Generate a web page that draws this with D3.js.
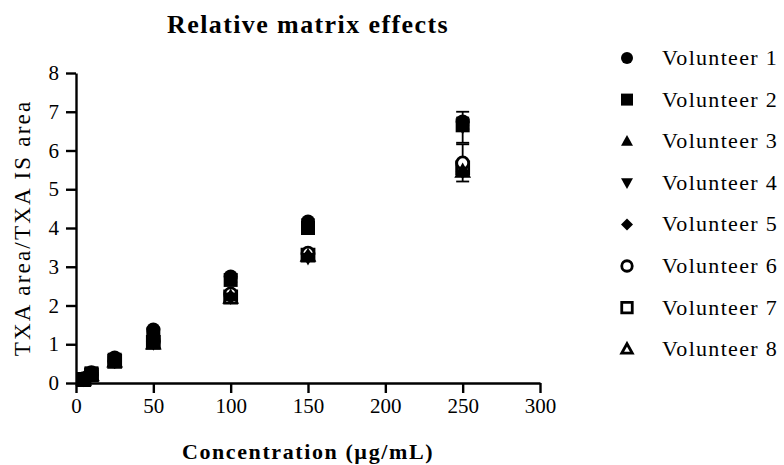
<!DOCTYPE html>
<html>
<head>
<meta charset="utf-8">
<script src="https://cdn.jsdelivr.net/npm/d3@7"></script>
<style>
  body { margin: 0; background: #fff; }
</style>
</head>
<body>
<svg id="chart" width="784" height="465"></svg>
<script>
// Concentrations (µg/mL)
const concentrations = [5, 10, 25, 50, 100, 150, 250];

// Area ratio (TXA / TXA IS) per volunteer
const volunteer1 = [0.12, 0.28, 0.66, 1.38, 2.75, 4.17, 6.75];
const volunteer2 = [0.10, 0.25, 0.60, 1.25, 2.66, 4.00, 6.65];
const volunteer3 = [0.08, 0.20, 0.55, 1.05, 2.25, 3.30, 5.50];
const volunteer4 = [0.08, 0.20, 0.55, 1.02, 2.20, 3.22, 6.60];
const volunteer5 = [0.08, 0.20, 0.55, 1.05, 2.22, 3.27, 5.45];
const volunteer6 = [0.09, 0.21, 0.57, 1.08, 2.30, 3.35, 5.68];
const volunteer7 = [0.09, 0.21, 0.56, 1.05, 2.22, 3.30, 5.55];
const volunteer8 = [0.08, 0.20, 0.55, 1.02, 2.20, 3.28, 5.45];

// Standard deviations of replicate injections
const sd1 = [0.01, 0.02, 0.03, 0.05, 0.06, 0.06, 0.10];
const sd2 = [0.01, 0.02, 0.03, 0.05, 0.06, 0.06, 0.10];
const sd3 = [0.01, 0.02, 0.03, 0.04, 0.05, 0.06, 0.08];
const sd4 = [0.01, 0.02, 0.03, 0.04, 0.05, 0.06, 0.40];
const sd5 = [0.01, 0.02, 0.03, 0.04, 0.05, 0.06, 0.08];
const sd6 = [0.01, 0.02, 0.03, 0.04, 0.05, 0.06, 0.48];
const sd7 = [0.01, 0.02, 0.03, 0.04, 0.05, 0.06, 0.10];
const sd8 = [0.01, 0.02, 0.03, 0.04, 0.05, 0.06, 0.08];

const seriesNames = ["Volunteer 1", "Volunteer 2", "Volunteer 3", "Volunteer 4",
                     "Volunteer 5", "Volunteer 6", "Volunteer 7", "Volunteer 8"];
const xTicks = [0, 50, 100, 150, 200, 250, 300];
const yTicks = [0, 1, 2, 3, 4, 5, 6, 7, 8];

const series = [
  { name: seriesNames[0], values: volunteer1, sd: sd1, shape: "circle",   filled: true },
  { name: seriesNames[1], values: volunteer2, sd: sd2, shape: "square",   filled: true },
  { name: seriesNames[2], values: volunteer3, sd: sd3, shape: "triangle", filled: true },
  { name: seriesNames[3], values: volunteer4, sd: sd4, shape: "triDown",  filled: true },
  { name: seriesNames[4], values: volunteer5, sd: sd5, shape: "diamond",  filled: true },
  { name: seriesNames[5], values: volunteer6, sd: sd6, shape: "circle",   filled: false },
  { name: seriesNames[6], values: volunteer7, sd: sd7, shape: "square",   filled: false },
  { name: seriesNames[7], values: volunteer8, sd: sd8, shape: "triangle", filled: false }
];

const FONT = "'Liberation Serif'";
const svg = d3.select("#chart");
const margin = { left: 76, right: 244, top: 73, bottom: 82 };
const W = 784, H = 465;

const x = d3.scaleLinear().domain([0, 300]).range([margin.left, W - margin.right]);
const y = d3.scaleLinear().domain([0, 8]).range([H - margin.bottom, margin.top]);

// Marker paths, sized by pixel width
function markerPath(shape, w) {
  const r = w / 2;
  switch (shape) {
    case "circle": return d3.symbol(d3.symbolCircle, Math.PI * r * r)();
    case "square": return d3.symbol(d3.symbolSquare, w * w)();
    case "triangle": {
      const h = w * 0.9;
      return `M0,${-h * 0.58}L${r},${h * 0.42}L${-r},${h * 0.42}Z`;
    }
    case "triDown": {
      const h = w * 0.9;
      return `M0,${h * 0.58}L${r},${-h * 0.42}L${-r},${-h * 0.42}Z`;
    }
    case "diamond": {
      const d = r * 1.0;
      return `M0,${-d}L${d},0L0,${d}L${-d},0Z`;
    }
  }
}

function styleMarker(sel, s, sw) {
  if (s.filled) sel.attr("fill", "#000").attr("stroke", "none");
  else sel.attr("fill", "#fff").attr("stroke", "#000").attr("stroke-width", sw);
}

function serifText(sel, size, bold, spacing) {
  sel.style("font-family", FONT).attr("font-size", size).attr("fill", "#000");
  if (bold) sel.attr("font-weight", "bold");
  if (spacing) sel.style("letter-spacing", spacing + "px");
}

// Axes
const xAxis = d3.axisBottom(x).tickValues(xTicks).tickSize(10).tickSizeOuter(0).tickPadding(5);
const yAxis = d3.axisLeft(y).tickValues(yTicks).tickSize(10).tickSizeOuter(0).tickPadding(7);

const gx = svg.append("g").attr("transform", `translate(0,${y(0)})`).call(xAxis);
const gy = svg.append("g").attr("transform", `translate(${x(0)},0)`).call(yAxis);
[gx, gy].forEach(g => {
  g.attr("font-family", null).attr("font-size", null);
  g.select(".domain").attr("stroke", "#000").attr("stroke-width", 2.4);
  g.selectAll(".tick line").attr("stroke", "#000").attr("stroke-width", 2.4);
  g.selectAll(".tick text").call(serifText, 21, false, 0);
});

// Error bars
const capW = 6.5;
series.forEach(s => {
  const g = svg.append("g");
  s.values.forEach((v, i) => {
    const cx = x(concentrations[i]);
    const lo = y(v - s.sd[i]), hi = y(v + s.sd[i]);
    g.append("line").attr("x1", cx).attr("x2", cx).attr("y1", lo).attr("y2", hi)
      .attr("stroke", "#000").attr("stroke-width", 1.8);
    [lo, hi].forEach(yy => g.append("line")
      .attr("x1", cx - capW).attr("x2", cx + capW).attr("y1", yy).attr("y2", yy)
      .attr("stroke", "#000").attr("stroke-width", 1.8));
  });
});

// Points (later volunteers first, so volunteer 1 sits on top)
series.slice().reverse().forEach(s => {
  const size = s.filled ? 14 : 12;
  svg.append("g").selectAll("path").data(s.values).join("path")
    .attr("d", markerPath(s.shape, size))
    .attr("transform", (v, i) => `translate(${x(concentrations[i])},${y(v)})`)
    .call(sel => styleMarker(sel, s, 2.8));
});

// Title
svg.append("text").attr("x", (x(0) + x(300)) / 2).attr("y", 33)
  .attr("text-anchor", "middle").call(serifText, 26, true, 1.4)
  .text("Relative matrix effects");

// Axis titles
svg.append("text").attr("x", (x(0) + x(300)) / 2).attr("y", 459)
  .attr("text-anchor", "middle").call(serifText, 22, true, 1.6)
  .text("Concentration (µg/mL)");
svg.append("text")
  .attr("transform", `translate(30,${(y(0) + y(8)) / 2}) rotate(-90)`)
  .attr("text-anchor", "middle").call(serifText, 23, false, 2.2)
  .text("TXA area/TXA IS area");

// Legend
const legend = svg.append("g");
series.forEach((s, i) => {
  const ly = 58 + i * 41.6;
  const g = legend.append("g").attr("transform", `translate(0,${ly})`);
  g.append("path").attr("d", markerPath(s.shape, s.filled ? 12 : 10.5))
    .attr("transform", "translate(627,0)")
    .call(sel => styleMarker(sel, s, 2.8));
  g.append("text").attr("x", 662).attr("y", 7)
    .call(serifText, 22, false, 1.3).text(s.name);
});
</script>
</body>
</html>
